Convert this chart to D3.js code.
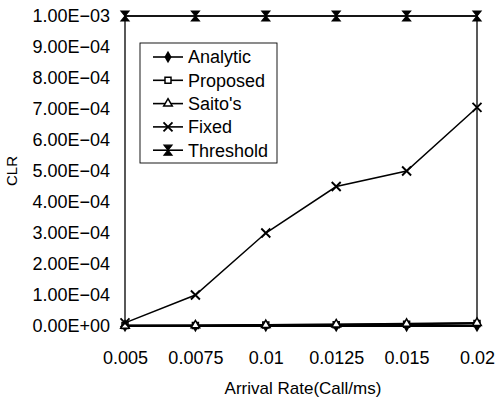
<!DOCTYPE html>
<html>
<head>
<meta charset="utf-8">
<script src="https://cdn.jsdelivr.net/npm/d3@7"></script>
<style>
  body { margin: 0; background: #fff; }
  svg { font-family: "Liberation Sans", Arial, sans-serif; }
</style>
</head>
<body>
<svg id="chart" width="499" height="398"></svg>
<script>
// data
const rates = ['0.005', '0.0075', '0.01', '0.0125', '0.015', '0.02'];
const analytic = [0, 0, 0, 0, 0, 0];
const proposed = [0.000002, 0.000002, 0.000003, 0.000004, 0.000006, 0.000008];
const saitos = [0.000001, 0.000002, 0.000003, 0.000005, 0.000007, 0.000010];
const fixed = [0.000010, 0.000100, 0.000300, 0.000450, 0.000500, 0.000705];
const threshold = [0.001, 0.001, 0.001, 0.001, 0.001, 0.001];
const yTicks = [0, 0.0001, 0.0002, 0.0003, 0.0004, 0.0005, 0.0006, 0.0007, 0.0008, 0.0009, 0.001];
const yTickLabels = ['0.00E+00', '1.00E\u221204', '2.00E\u221204', '3.00E\u221204', '4.00E\u221204',
  '5.00E\u221204', '6.00E\u221204', '7.00E\u221204', '8.00E\u221204', '9.00E\u221204', '1.00E\u221203'];

const series = [
  { name: 'Analytic', values: analytic, marker: 'diamond' },
  { name: 'Proposed', values: proposed, marker: 'square' },
  { name: "Saito's", values: saitos, marker: 'triangle' },
  { name: 'Fixed', values: fixed, marker: 'x' },
  { name: 'Threshold', values: threshold, marker: 'hourglass' }
];

const svg = d3.select('#chart');
const margin = { top: 16, right: 22, bottom: 72, left: 125 };
const W = 499, H = 398;

const x = d3.scalePoint().domain(rates).range([margin.left, W - margin.right]);
const y = d3.scaleLinear().domain([0, 0.001]).range([H - margin.bottom, margin.top]);

// frame
svg.append('rect')
  .attr('x', margin.left).attr('y', margin.top)
  .attr('width', W - margin.left - margin.right)
  .attr('height', H - margin.top - margin.bottom)
  .attr('fill', 'none').attr('stroke', '#000').attr('stroke-width', 1.3);

// axes
const yAxis = svg.append('g')
  .attr('transform', `translate(${margin.left},0)`)
  .call(d3.axisLeft(y).tickValues(yTicks).tickSize(0).tickPadding(15)
    .tickFormat((d, i) => yTickLabels[i]));
yAxis.select('.domain').remove();
yAxis.selectAll('text').attr('font-size', 18).attr('font-family', null).attr('fill', '#000');

const xAxis = svg.append('g')
  .attr('transform', `translate(0,${H - margin.bottom})`)
  .call(d3.axisBottom(x).tickSize(0).tickPadding(25));
xAxis.select('.domain').remove();
xAxis.selectAll('text').attr('font-size', 18).attr('font-family', null).attr('fill', '#000');

// axis titles
svg.append('text')
  .attr('transform', `translate(17,${(margin.top + H - margin.bottom) / 2}) rotate(-90)`)
  .attr('text-anchor', 'middle')
  .attr('font-size', 15).attr('fill', '#000')
  .text('CLR');

svg.append('text')
  .attr('x', 303).attr('y', 394)
  .attr('text-anchor', 'middle')
  .attr('font-size', 17).attr('fill', '#000')
  .text('Arrival Rate(Call/ms)');

// markers
function drawMarker(g, type) {
  if (type === 'diamond') {
    g.append('path').attr('d', d3.symbol(d3.symbolDiamond, 44)())
      .attr('fill', '#000');
  } else if (type === 'square') {
    g.append('path').attr('d', d3.symbol(d3.symbolSquare, 36)())
      .attr('fill', '#fff').attr('stroke', '#000').attr('stroke-width', 1.5);
  } else if (type === 'triangle') {
    g.append('path').attr('d', d3.symbol(d3.symbolTriangle, 32)())
      .attr('fill', '#fff').attr('stroke', '#000').attr('stroke-width', 1.5);
  } else if (type === 'x') {
    g.append('path').attr('d', 'M-4.5,-4.5L4.5,4.5M-4.5,4.5L4.5,-4.5')
      .attr('stroke', '#000').attr('stroke-width', 1.9).attr('fill', 'none');
  } else if (type === 'hourglass') {
    g.append('path').attr('d', 'M-4,-5L4,-5L-4,5L4,5Z')
      .attr('fill', '#000').attr('stroke', '#000').attr('stroke-width', 1.2);
  }
}

const line = d3.line().x((d, i) => x(rates[i])).y(d => y(d));

series.forEach(s => {
  svg.append('path')
    .datum(s.values)
    .attr('d', line)
    .attr('fill', 'none')
    .attr('stroke', '#000')
    .attr('stroke-width', s.name === 'Fixed' || s.name === 'Threshold' ? 1.5 : 2);
});

series.forEach(s => {
  s.values.forEach((v, i) => {
    const g = svg.append('g').attr('transform', `translate(${x(rates[i])},${y(v)})`);
    drawMarker(g, s.marker);
  });
});

// legend
const legend = svg.append('g');
legend.append('rect')
  .attr('x', 140).attr('y', 43).attr('width', 137).attr('height', 120)
  .attr('fill', '#fff').attr('stroke', '#000').attr('stroke-width', 0.9);

series.forEach((s, i) => {
  const ly = 57 + i * 23.3;
  legend.append('line')
    .attr('x1', 153).attr('x2', 183).attr('y1', ly).attr('y2', ly)
    .attr('stroke', '#000').attr('stroke-width', 1.6);
  drawMarker(legend.append('g').attr('transform', `translate(168,${ly})`), s.marker);
  legend.append('text')
    .attr('x', 188).attr('y', ly).attr('dy', '0.35em')
    .attr('font-size', 18).attr('fill', '#000')
    .text(s.name);
});
</script>
</body>
</html>
